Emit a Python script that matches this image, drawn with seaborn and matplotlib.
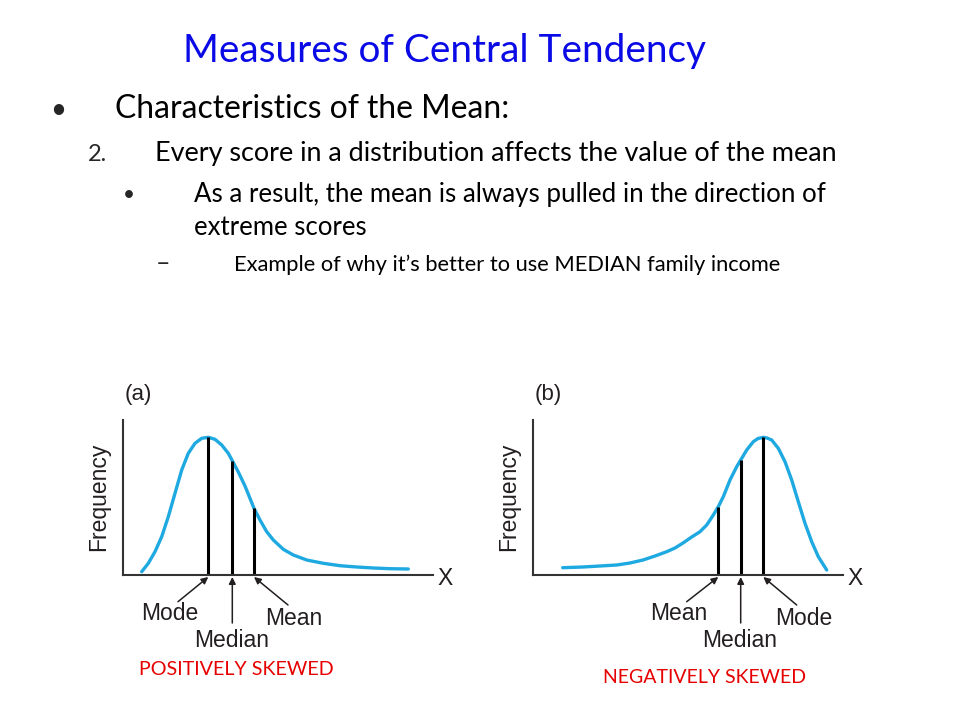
import matplotlib
matplotlib.use("Agg")
import matplotlib.pyplot as plt
import seaborn as sns

# curve (a): positively skewed, x measured from the y axis, frequency above the x axis
pos_x = [18.7, 25.3, 32, 38.7, 45.3, 52, 58.7, 65.3, 72, 78.7, 85.3, 92, 98.7, 105.3, 109.3,
         115.3, 122, 131, 137, 143.7, 150.3, 160.3, 170.3, 183.7, 200.3, 217, 233.7, 250.3, 267, 285.3]
pos_y = [3.3, 11.7, 23.3, 38.3, 58.3, 81.7, 105, 121.7, 131.7, 136.7, 137.7, 135.7, 130, 121.7, 114.3,
         103, 89, 66.7, 55, 43.3, 35, 25.7, 20, 15, 11.7, 9.3, 8, 7, 6.3, 6]
pos_stats = ["Mode", "Median", "Mean"]
pos_stat_x = [85.3, 109.3, 131]
pos_stat_h = [137.7, 114.3, 66.7]

# curve (b): negatively skewed
neg_x = [29.7, 50, 67, 83.7, 97, 110, 122, 133.7, 142, 150, 158.7, 167, 173.7, 180.3, 185.3,
         190.3, 197, 203.7, 207.7, 213.7, 220.3, 225, 230.3, 234, 238.7, 245.3, 252, 258.7,
         265.3, 272, 278.7, 285.3, 293.7]
neg_y = [7.3, 8, 9, 10, 12, 15, 19, 23.3, 27, 32, 38, 43.3, 50, 60, 68.3,
         78.3, 95, 108.3, 115, 125, 133.3, 136.5, 137.7, 137, 135, 126.7, 113.3, 95,
         73.3, 51.7, 33.3, 18.3, 5]
neg_stats = ["Mean", "Median", "Mode"]
neg_stat_x = [185.3, 207.7, 230.3]
neg_stat_h = [68.3, 115, 137.7]

title = "Measures of Central Tendency"
bullet1 = "Characteristics of the Mean:"
point2 = "Every score in a distribution affects the value of the mean"
sub1 = "As a result, the mean is always pulled in the direction of"
sub2 = "extreme scores"
sub3 = "Example of why it\u2019s better to use MEDIAN family income"
pos_label = "POSITIVELY SKEWED"
neg_label = "NEGATIVELY SKEWED"

W, H = 960, 720
CURVE = "#1fa9e1"
INK = "#231f20"

sns.set_style("white")
plt.rcParams["font.family"] = ["Lato", "DejaVu Sans"]

fig = plt.figure(figsize=(9.6, 7.2), dpi=100)
fig.patch.set_facecolor("white")
renderer = fig.canvas.get_renderer()


def fx(px):
    return px / W


def fy(py):
    return 1 - py / H


def fit_text(left, right, base, s, color="black", size=20, family=None):
    t = fig.text(fx(left), fy(base), s, ha="left", va="baseline", color=color,
                 fontsize=size, family=family)
    bb = t.get_window_extent(renderer)
    t.set_fontsize(size * (right - left) / bb.width)
    return t


# slide text
fit_text(183, 706, 62, title, color="#0a0ae6", size=36)
fig.text(fx(50), fy(118), "\u2022", fontsize=20, va="baseline")
fit_text(115, 508, 118, bullet1, size=22)
fig.text(fx(88), fy(161), "2.", fontsize=17, va="baseline")
fit_text(155, 836, 161, point2, size=18)
fig.text(fx(123), fy(201), "\u2022", fontsize=15, va="baseline")
fit_text(194, 828, 202, sub1, size=16)
fit_text(194, 367, 235, sub2, size=16)
fig.text(fx(156), fy(271), "\u2013", fontsize=18, va="baseline")
fit_text(234, 783, 271, sub3, size=14)


def panel(left_px, curve_x, curve_y, names, sx, sh, tag, name_pos, arrows, skew, skew_box):
    ax = fig.add_axes([fx(left_px), fy(575), 310 / W, 155 / H])
    ax.set_facecolor("none")
    sns.lineplot(x=curve_x, y=curve_y, ax=ax, color=CURVE, linewidth=2.4,
                 sort=False, estimator=None)
    ax.vlines(sx, 0, sh, color="black", linewidth=2.2)
    ax.set_xlim(0, 310)
    ax.set_ylim(0, 155)
    ax.set_xticks([])
    ax.set_yticks([])
    sns.despine(ax=ax)
    for side in ["left", "bottom"]:
        ax.spines[side].set_linewidth(1.5)
        ax.spines[side].set_color("#333333")
    ax.set_xlabel("")
    ax.set_ylabel("")
    lab = dict(family="Liberation Sans", color=INK, clip_on=False)
    ax.text(-24, 78, "Frequency", rotation=90, ha="center", va="center", fontsize=16.5, **lab)
    ax.text(15, 175, tag, ha="center", va="baseline", fontsize=16, **lab)
    ax.text(322, -10, "X", ha="center", va="baseline", fontsize=16.5, **lab)
    for name, (tx, ty) in zip(names, name_pos):
        ax.text(tx, ty, name, ha="center", va="baseline", fontsize=16.5, **lab)
    for head, tail in zip(sx, arrows):
        ax.annotate("", xy=(head, -2), xytext=tail, annotation_clip=False,
                    arrowprops=dict(arrowstyle="-|>", color=INK, lw=1.1,
                                    mutation_scale=10, shrinkA=0, shrinkB=0))
    fit_text(skew_box[0], skew_box[1], skew_box[2], skew, color="#e60000", size=14)
    return ax


panel(123, pos_x, pos_y, pos_stats, pos_stat_x, pos_stat_h, "(a)",
      [(47, -45), (108.7, -72), (171, -50)],
      [(55, -26.7), (109.3, -48), (165, -30)],
      pos_label, (139, 335, 675))
panel(533, neg_x, neg_y, neg_stats, neg_stat_x, neg_stat_h, "(b)",
      [(146, -45), (207, -72), (271, -50)],
      [(153.7, -26.7), (207.7, -48), (263.7, -30)],
      neg_label, (603, 807, 683))

fig.savefig("out.png", dpi=100)
